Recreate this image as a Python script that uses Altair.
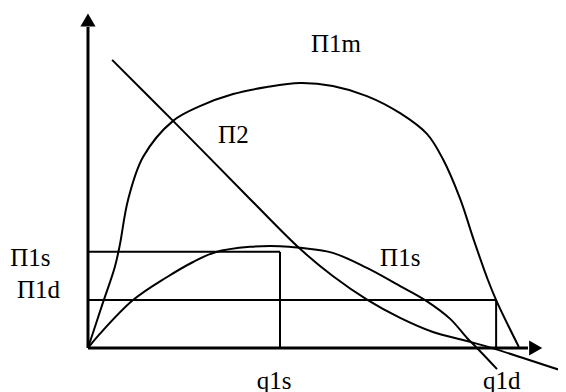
import altair as alt
import pandas as pd

# plot-area geometry (units: q along x, profit along y)
X0, X1 = -17.58, 103.30
Y0, Y1 = -13.13, 101.49
W, H = 550, 384

# curve П1m
m_q = [0, 3.1, 5.9, 7.0, 8.8, 12.1, 18.7, 24.6, 31.9, 39.3, 46.6, 53.8, 61.3, 68.6, 74.5, 78.0, 81.8, 84.8, 87.9, 89.9, 94.7]
m_v = [0, 12.8, 24.2, 30.8, 44.2, 57.0, 67.8, 72.2, 75.8, 77.9, 79.1, 78.2, 75.2, 70.1, 63.9, 56.4, 44.5, 32.2, 20.3, 13.7, 0.3]

# curve П1s
s_q = [0, 2.6, 9.9, 17.4, 23.0, 28.0, 35.6, 42.2, 46.6, 53.8, 61.3, 68.6, 74.1, 79.6, 83.3, 85.5, 89.9]
s_v = [0, 4.2, 14.3, 21.2, 25.6, 28.6, 30.2, 30.4, 29.9, 28.4, 23.9, 18.5, 14.3, 8.7, 3.0, 0.0, -6.3]

# curve П2
t_q = [5.3, 18.7, 35.6, 46.6, 53.8, 61.5, 68.6, 75.8, 83.3, 89.0, 105.1]
t_v = [86.0, 67.8, 44.5, 29.6, 21.5, 14.3, 9.0, 4.8, 2.1, -0.1, -7.2]

# levels and quantities
lvl_1s, lvl_1d = 28.7, 14.3
q_1s, q_1d = 42.2, 89.7

# axes
ax_top, ax_right = 95.8, 96.7
arrow_y, arrow_x = 97.9, 98.4

labels = ["П1m", "П2", "П1s", "П1d", "П1s", "q1s", "q1d"]
lab_q = [49.0, 28.6, -17.1, -15.6, 64.2, 37.1, 86.8]
lab_v = [88.4, 61.2, 24.5, 14.9, 24.5, -12.2, -12.2]

xs = alt.Scale(domain=[X0, X1], nice=False, zero=False)
ys = alt.Scale(domain=[Y0, Y1], nice=False, zero=False)


def line(qs, vs, sw=2):
    df = pd.DataFrame({"q": qs, "v": vs, "o": range(len(qs))})
    return alt.Chart(df).mark_line(interpolate="catmull-rom", color="black", strokeWidth=sw).encode(
        x=alt.X("q:Q", scale=xs, axis=None),
        y=alt.Y("v:Q", scale=ys, axis=None),
        order="o:O",
    )


seg = pd.DataFrame({
    "q": [0, 0, 0, q_1s, q_1d],
    "v": [lvl_1s, lvl_1d, 0, 0, 0],
    "q2": [q_1s, q_1d, 0, q_1s, q_1d],
    "v2": [lvl_1s, lvl_1d, 0, lvl_1s, lvl_1d],
})
segs = alt.Chart(seg).mark_rule(color="black", strokeWidth=2).encode(
    x=alt.X("q:Q", scale=xs, axis=None), x2="q2:Q",
    y=alt.Y("v:Q", scale=ys, axis=None), y2="v2:Q",
)

axes_df = pd.DataFrame({"q": [0, 0], "v": [0, 0], "q2": [0, ax_right], "v2": [ax_top, 0]})
axes = alt.Chart(axes_df).mark_rule(color="black", strokeWidth=3).encode(
    x=alt.X("q:Q", scale=xs, axis=None), x2="q2:Q",
    y=alt.Y("v:Q", scale=ys, axis=None), y2="v2:Q",
)

arr_df = pd.DataFrame({"q": [0, arrow_x], "v": [arrow_y, 0], "s": ["triangle-up", "triangle-right"]})
arrows = alt.Chart(arr_df).mark_point(filled=True, color="black", size=230, opacity=1).encode(
    x=alt.X("q:Q", scale=xs, axis=None),
    y=alt.Y("v:Q", scale=ys, axis=None),
    shape=alt.Shape("s:N", scale=None),
)

lab_df = pd.DataFrame({"t": labels, "q": lab_q, "v": lab_v})
texts = alt.Chart(lab_df).mark_text(
    align="left", baseline="alphabetic", font="Liberation Serif", fontSize=25, color="black"
).encode(
    x=alt.X("q:Q", scale=xs, axis=None),
    y=alt.Y("v:Q", scale=ys, axis=None),
    text="t:N",
)

chart = alt.layer(
    line(m_q, m_v), line(s_q, s_v), line(t_q, t_v), segs, axes, arrows, texts
).properties(
    width=W, height=H, autosize=alt.AutoSizeParams(type="none"), padding=0, background="white"
).configure_view(stroke=None)

chart.save("out.html", embed_options={"renderer": "svg", "actions": False})
